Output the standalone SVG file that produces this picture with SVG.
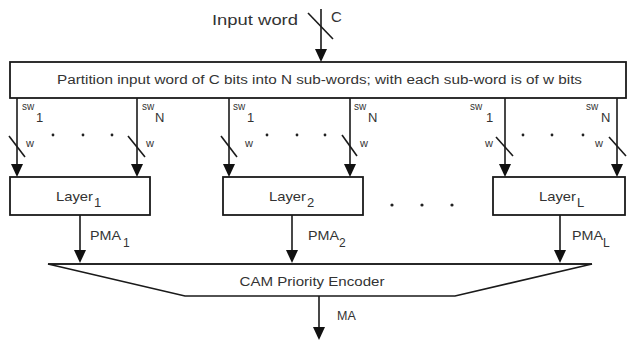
<svg xmlns="http://www.w3.org/2000/svg" width="631" height="343" viewBox="0 0 631 343">
<style>
.ln{stroke:#1a1a1a;stroke-width:1.6;fill:none}
.bx{stroke:#1a1a1a;stroke-width:1.8;fill:#fff}
.ah{fill:#111;stroke:none}
.t{font-family:"Liberation Sans",Arial,sans-serif;fill:#333}
.dot{fill:#222}
</style>
<rect width="631" height="343" fill="#fff"/>

<g id="input">
<text class="t" x="212" y="25" font-size="15" textLength="86" lengthAdjust="spacingAndGlyphs">Input word</text>
<text class="t" x="331" y="22" font-size="15">C</text>
</g>

<g id="partition">
<rect class="bx" x="10" y="62" width="616" height="36"/>
<text class="t" x="57" y="84" font-size="12" textLength="525" lengthAdjust="spacingAndGlyphs">Partition input word of C bits into N sub-words; with each sub-word is of w bits</text>
</g>

<g id="layer1">
<rect class="bx" x="10" y="177" width="140" height="38"/>
<text class="t" x="56" y="201" font-size="13" textLength="37" lengthAdjust="spacingAndGlyphs">Layer</text>
<text class="t" x="94" y="207" font-size="13">1</text>
</g>
<g id="layer2">
<rect class="bx" x="223" y="177" width="140" height="38"/>
<text class="t" x="269" y="201" font-size="13" textLength="37" lengthAdjust="spacingAndGlyphs">Layer</text>
<text class="t" x="307" y="207" font-size="13">2</text>
</g>
<g id="layerL">
<rect class="bx" x="493" y="177" width="132" height="38"/>
<text class="t" x="539" y="201" font-size="13" textLength="37" lengthAdjust="spacingAndGlyphs">Layer</text>
<text class="t" x="577" y="207" font-size="13">L</text>
</g>

<g id="encoder">
<polygon class="ln" points="48,264 592,264 455,296 185,296"/>
<line class="ln" x1="48" y1="264" x2="592" y2="264" stroke-width="2.4"/>
<text class="t" x="312" y="286" font-size="12.5" text-anchor="middle" textLength="145" lengthAdjust="spacingAndGlyphs">CAM Priority Encoder</text>
</g>

<g id="connectors">
<!-- input -->
<line class="ln" x1="321" y1="9" x2="321" y2="50"/>
<line class="ln" x1="308" y1="13" x2="333" y2="39"/>
<polygon class="ah" points="315,49 327,49 321,62"/>

<!-- subword lines -->
<line class="ln" x1="17" y1="98" x2="17" y2="166"/>
<polygon class="ah" points="11,164 23,164 17,177"/>
<line class="ln" x1="9" y1="136" x2="25" y2="157"/>
<line class="ln" x1="137" y1="98" x2="137" y2="166"/>
<polygon class="ah" points="131,164 143,164 137,177"/>
<line class="ln" x1="128" y1="136" x2="145" y2="157"/>
<line class="ln" x1="229" y1="98" x2="229" y2="166"/>
<polygon class="ah" points="223,164 235,164 229,177"/>
<line class="ln" x1="221" y1="136" x2="237" y2="157"/>
<line class="ln" x1="350" y1="98" x2="350" y2="166"/>
<polygon class="ah" points="344,164 356,164 350,177"/>
<line class="ln" x1="342" y1="135" x2="357" y2="156"/>
<line class="ln" x1="505" y1="98" x2="505" y2="166"/>
<polygon class="ah" points="499,164 511,164 505,177"/>
<line class="ln" x1="496" y1="137" x2="513" y2="156"/>
<line class="ln" x1="617" y1="98" x2="617" y2="166"/>
<polygon class="ah" points="611,164 623,164 617,177"/>
<line class="ln" x1="609" y1="137" x2="626" y2="156"/>

<!-- PMA lines -->
<line class="ln" x1="80" y1="215" x2="80" y2="252"/>
<polygon class="ah" points="74,250 86,250 80,263"/>
<line class="ln" x1="292" y1="215" x2="292" y2="252"/>
<polygon class="ah" points="286,250 298,250 292,263"/>
<line class="ln" x1="560" y1="215" x2="560" y2="252"/>
<polygon class="ah" points="554,250 566,250 560,263"/>

<!-- MA -->
<line class="ln" x1="319" y1="296" x2="319" y2="329"/>
<polygon class="ah" points="313,327 325,327 319,340"/>
</g>

<g id="labels">
<text class="t" x="22" y="110" font-size="10">sw</text><text class="t" x="36" y="122" font-size="13">1</text>
<text class="t" x="142" y="110" font-size="10">sw</text><text class="t" x="155" y="122" font-size="13">N</text>
<text class="t" x="233" y="110" font-size="10">sw</text><text class="t" x="247" y="122" font-size="13">1</text>
<text class="t" x="354" y="110" font-size="10">sw</text><text class="t" x="368" y="122" font-size="13">N</text>
<text class="t" x="470" y="110" font-size="10">sw</text><text class="t" x="486" y="122" font-size="13">1</text>
<text class="t" x="586" y="110" font-size="10">sw</text><text class="t" x="601" y="122" font-size="13">N</text>

<text class="t" x="26" y="147" font-size="11">w</text>
<text class="t" x="146" y="147" font-size="11">w</text>
<text class="t" x="245" y="147" font-size="11">w</text>
<text class="t" x="360" y="147" font-size="11">w</text>
<text class="t" x="485" y="147" font-size="11">w</text>
<text class="t" x="595" y="147" font-size="11">w</text>

<text class="t" x="90" y="240" font-size="12.5" textLength="31" lengthAdjust="spacingAndGlyphs">PMA</text><text class="t" x="123" y="247" font-size="12">1</text>
<text class="t" x="308" y="240" font-size="12.5" textLength="31" lengthAdjust="spacingAndGlyphs">PMA</text><text class="t" x="339" y="247" font-size="12">2</text>
<text class="t" x="572" y="240" font-size="12.5" textLength="31" lengthAdjust="spacingAndGlyphs">PMA</text><text class="t" x="603" y="247" font-size="12">L</text>
<text class="t" x="337" y="320" font-size="12.5">MA</text>
</g>

<g id="dots">
<circle class="dot" cx="53" cy="135" r="1.4"/><circle class="dot" cx="83" cy="135" r="1.4"/><circle class="dot" cx="112" cy="135" r="1.4"/>
<circle class="dot" cx="267" cy="135" r="1.4"/><circle class="dot" cx="297" cy="135" r="1.4"/><circle class="dot" cx="325" cy="135" r="1.4"/>
<circle class="dot" cx="523" cy="135" r="1.4"/><circle class="dot" cx="552" cy="135" r="1.4"/><circle class="dot" cx="583" cy="135" r="1.4"/>
<circle class="dot" cx="392" cy="205" r="1.6"/><circle class="dot" cx="422" cy="205" r="1.6"/><circle class="dot" cx="452" cy="205" r="1.6"/>
</g>
</svg>
